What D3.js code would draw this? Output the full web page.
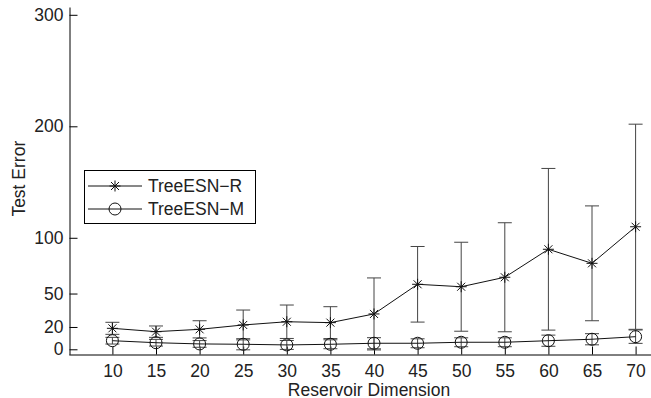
<!DOCTYPE html>
<html>
<head>
<meta charset="utf-8">
<script src="https://cdn.jsdelivr.net/npm/d3@7"></script>
<style>
  body { margin: 0; background: #fff; }
  svg { font-family: "Liberation Sans", Arial, sans-serif; }
</style>
</head>
<body>
<div id="chart"></div>
<script>
// data
const dims = [10, 15, 20, 25, 30, 35, 40, 45, 50, 55, 60, 65, 70];
const rMean = [18.8, 15.8, 17.9, 21.8, 24.7, 23.9, 31.7, 58.3, 56.1, 64.6, 89.7, 77.1, 109.9];
const rStd  = [5.4, 5.1, 7.7, 13.4, 15.0, 14.3, 32.3, 33.9, 39.9, 48.9, 72.5, 51.5, 92.0];
const mMean = [7.7, 5.9, 4.8, 4.5, 3.9, 4.5, 5.4, 5.4, 6.3, 6.3, 7.7, 9.0, 11.3];
const mStd  = [3, 3, 3, 5, 4, 4, 5, 4, 4, 4, 5, 5, 6];
const yTicks = [0, 20, 50, 100, 200, 300];
const seriesNames = ["TreeESN-R", "TreeESN-M"];

const width = 651, height = 398;
const fs = "17.5px";

const svg = d3.select("#chart")
  .append("svg")
  .attr("width", width)
  .attr("height", height);

const x = d3.scaleLinear().domain([5, 75]).range([68.8, 679.2]);
const y = d3.scaleLinear().domain([-4.5, 307]).range([354.3, 7]);

// axes (MATLAB style, inward ticks)
const yAxis = svg.append("g")
  .attr("transform", "translate(69.5,0)")
  .call(d3.axisLeft(y).tickValues(yTicks).tickSizeInner(-8).tickSizeOuter(0).tickPadding(6));

const xAxis = svg.append("g")
  .attr("transform", "translate(0,354.5)")
  .call(d3.axisBottom(x).tickValues(dims).tickSizeInner(-8).tickSizeOuter(0).tickPadding(10));

[yAxis, xAxis].forEach(a => {
  a.selectAll("path, line").attr("stroke", "#000");
  a.selectAll("text").attr("fill", "#222").style("font-size", fs).attr("font-family", null);
});

svg.append("text")
  .attr("x", 369)
  .attr("y", 395.5)
  .attr("text-anchor", "middle")
  .style("font-size", fs)
  .attr("fill", "#222")
  .text("Reservoir Dimension");

svg.append("text")
  .attr("transform", "translate(25,178.7) rotate(-90)")
  .attr("text-anchor", "middle")
  .style("font-size", fs)
  .attr("fill", "#222")
  .text("Test Error");

const plot = svg.append("g");

function errorBars(mean, std) {
  const g = plot.append("g").attr("stroke", "#444").attr("stroke-width", 1);
  dims.forEach((d, i) => {
    const cx = x(d), lo = y(mean[i] - std[i]), hi = y(mean[i] + std[i]);
    const bottom = Math.min(lo, y.range()[0]);
    g.append("line").attr("x1", cx).attr("x2", cx).attr("y1", hi).attr("y2", bottom);
    g.append("line").attr("x1", cx - 7).attr("x2", cx + 7).attr("y1", hi).attr("y2", hi);
    if (lo <= y.range()[0]) {
      g.append("line").attr("x1", cx - 7).attr("x2", cx + 7).attr("y1", lo).attr("y2", lo);
    }
  });
}

const line = d3.line().x((d, i) => x(dims[i])).y(d => y(d));

function star(g, cx, cy) {
  const a = 5.5, b = 4;
  g.append("path")
    .attr("d", `M${cx - a},${cy}L${cx + a},${cy}M${cx},${cy - a}L${cx},${cy + a}` +
      `M${cx - b},${cy - b}L${cx + b},${cy + b}M${cx - b},${cy + b}L${cx + b},${cy - b}`)
    .attr("stroke", "#111").attr("stroke-width", 1).attr("fill", "none");
}

function circ(g, cx, cy) {
  g.append("circle").attr("cx", cx).attr("cy", cy).attr("r", 6)
    .attr("fill", "none").attr("stroke", "#111").attr("stroke-width", 1);
}

errorBars(rMean, rStd);
errorBars(mMean, mStd);

plot.append("path").datum(rMean).attr("d", line)
  .attr("fill", "none").attr("stroke", "#111").attr("stroke-width", 1);
plot.append("path").datum(mMean).attr("d", line)
  .attr("fill", "none").attr("stroke", "#111").attr("stroke-width", 1);

rMean.forEach((v, i) => star(plot, x(dims[i]), y(v)));
mMean.forEach((v, i) => circ(plot, x(dims[i]), y(v)));

// legend
const legend = svg.append("g");
legend.append("rect")
  .attr("x", 84.5).attr("y", 170.5).attr("width", 171).attr("height", 53)
  .attr("fill", "#fff").attr("stroke", "#000").attr("stroke-width", 1);

const legendY = [186, 209];
seriesNames.forEach((name, i) => {
  const ly = legendY[i];
  legend.append("line").attr("x1", 88).attr("x2", 142).attr("y1", ly).attr("y2", ly)
    .attr("stroke", "#111").attr("stroke-width", 1);
  if (i === 0) star(legend, 115, ly); else circ(legend, 115, ly);
  legend.append("text")
    .attr("x", 148).attr("y", ly).attr("dy", "0.35em")
    .style("font-size", fs).attr("fill", "#222")
    .text(name.replace("-", "\u2212"));
});
</script>
</body>
</html>
